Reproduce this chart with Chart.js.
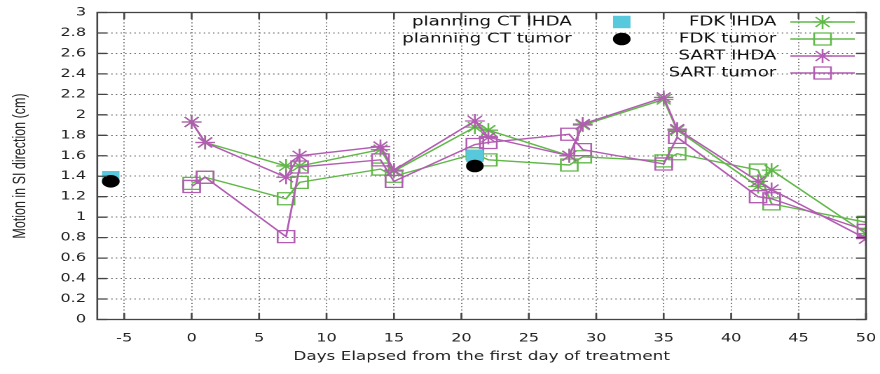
<!DOCTYPE html>
<html>
<head>
<meta charset="utf-8">
<script src="https://cdn.jsdelivr.net/npm/chart.js@4.4.1/dist/chart.umd.min.js"></script>
<style>
    html, body { margin: 0; padding: 0; background: #fff; overflow: hidden; }
    /* la figura original esta estirada en horizontal */
    #marco { width: 628px; height: 374px; transform: scaleX(1.40127); transform-origin: 0 0; }
</style>
</head>
<body>
<div id="marco"><canvas id="grafica" width="628" height="374"></canvas></div>
<script>
const dias = [0, 1, 7, 8, 14, 15, 21, 22, 28, 29, 35, 36, 42, 43, 50];
const fdkIhda   = [1.93, 1.73, 1.50, 1.50, 1.66, 1.45, 1.88, 1.85, 1.60, 1.90, 2.15, 1.85, 1.30, 1.46, 0.84];
const fdkTumor  = [1.33, 1.39, 1.18, 1.34, 1.47, 1.40, 1.62, 1.56, 1.51, 1.59, 1.55, 1.62, 1.46, 1.13, 0.95];
const sartIhda  = [1.93, 1.73, 1.39, 1.60, 1.69, 1.46, 1.94, 1.78, 1.60, 1.91, 2.17, 1.86, 1.35, 1.27, 0.79];
const sartTumor = [1.30, 1.39, 0.81, 1.49, 1.56, 1.35, 1.71, 1.73, 1.81, 1.66, 1.52, 1.78, 1.20, 1.18, 0.87];

const diasPlanning = [-6, 21];
const planningIhda = [1.39, 1.60];
const planningTumor = [1.35, 1.50];

const xTicks = [-5, 0, 5, 10, 15, 20, 25, 30, 35, 40, 45, 50];
const yTicks = [0, 0.2, 0.4, 0.6, 0.8, 1, 1.2, 1.4, 1.6, 1.8, 2, 2.2, 2.4, 2.6, 2.8, 3];

const verde = 'rgb(96,184,72)';
const magenta = 'rgb(178,92,178)';
const cian = 'rgb(88,200,220)';

function serie(xs, ys) {
    return xs.map((d, i) => ({ x: d, y: ys[i] }));
}

function lineaSerie(label, valores, color, estilo, radio) {
    return {
        label: label,
        data: serie(dias, valores),
        borderColor: color,
        backgroundColor: 'rgba(0,0,0,0)',
        borderWidth: 1.4,
        tension: 0,
        pointStyle: estilo,
        pointRadius: radio,
        pointBorderWidth: 1.3,
        pointBorderColor: color,
        pointBackgroundColor: 'rgba(0,0,0,0)'
    };
}

// posicion de cada entrada en la leyenda estilo gnuplot: [columna, fila]
const huecosLeyenda = {
    'planning CT IHDA': [0, 0], 'planning CT tumor': [0, 1],
    'FDK IHDA': [1, 0], 'FDK tumor': [1, 1], 'SART IHDA': [1, 2], 'SART tumor': [1, 3]
};

function dibujarMarca(ctx, ds, x, y) {
    const estilo = ds.pointStyle;
    const r = ds.pointRadius;
    ctx.beginPath();
    if (estilo === 'circle') {
        ctx.arc(x, y, r, 0, Math.PI * 2);
        ctx.fillStyle = ds.backgroundColor;
        ctx.fill();
    } else if (estilo === 'rect') {
        const s = Math.SQRT1_2 * r;
        ctx.rect(x - s, y - s, 2 * s, 2 * s);
        if (ds.showLine === false) {
            ctx.fillStyle = ds.backgroundColor;
            ctx.fill();
        } else {
            ctx.strokeStyle = ds.borderColor;
            ctx.lineWidth = ds.pointBorderWidth;
            ctx.stroke();
        }
    } else if (estilo === 'star') {
        const d = r * Math.SQRT1_2;
        ctx.moveTo(x - r, y); ctx.lineTo(x + r, y);
        ctx.moveTo(x, y - r); ctx.lineTo(x, y + r);
        ctx.moveTo(x - d, y - d); ctx.lineTo(x + d, y + d);
        ctx.moveTo(x - d, y + d); ctx.lineTo(x + d, y - d);
        ctx.strokeStyle = ds.borderColor;
        ctx.lineWidth = ds.pointBorderWidth;
        ctx.stroke();
    }
}

const leyendaGnuplot = {
    id: 'leyendaGnuplot',
    afterDraw(chart) {
        const ctx = chart.ctx;
        ctx.save();
        ctx.font = '13px "DejaVu Sans"';
        ctx.textAlign = 'right';
        ctx.textBaseline = 'middle';
        chart.data.datasets.forEach(ds => {
            const hueco = huecosLeyenda[ds.label];
            if (!hueco) return;
            const y = 22 + hueco[1] * 17;
            ctx.fillStyle = '#111';
            if (hueco[0] === 0) {
                ctx.fillText(ds.label, 408, y);
                dibujarMarca(ctx, ds, 443.7, y);
            } else {
                ctx.fillText(ds.label, 554, y);
                ctx.beginPath();
                ctx.moveTo(564, y);
                ctx.lineTo(610, y);
                ctx.strokeStyle = ds.borderColor;
                ctx.lineWidth = ds.borderWidth;
                ctx.stroke();
                dibujarMarca(ctx, ds, 587, y);
            }
        });
        ctx.restore();
    }
};

const bordeYMarcas = {
    id: 'bordeYMarcas',
    afterDatasetsDraw(chart) {
        const { ctx, chartArea: a, scales: { x, y } } = chart;
        ctx.save();
        ctx.strokeStyle = '#444';
        ctx.lineWidth = 1.3;
        ctx.strokeRect(a.left, a.top, a.right - a.left, a.bottom - a.top);
        ctx.beginPath();
        xTicks.forEach(v => {
            const px = x.getPixelForValue(v);
            ctx.moveTo(px, a.bottom); ctx.lineTo(px, a.bottom - 6.5);
            ctx.moveTo(px, a.top); ctx.lineTo(px, a.top + 6.5);
        });
        yTicks.forEach(v => {
            const py = y.getPixelForValue(v);
            ctx.moveTo(a.left, py); ctx.lineTo(a.left + 7, py);
            ctx.moveTo(a.right, py); ctx.lineTo(a.right - 7, py);
        });
        ctx.stroke();
        ctx.restore();
    }
};

const ctx = document.getElementById('grafica');

new Chart(ctx, {
    type: 'line',
    data: {
        datasets: [
            {
                label: 'planning CT tumor',
                data: serie(diasPlanning, planningTumor),
                showLine: false,
                pointStyle: 'circle',
                pointRadius: 6.3,
                backgroundColor: '#000',
                borderColor: '#000',
                pointBorderWidth: 0
            },
            {
                label: 'planning CT IHDA',
                data: serie(diasPlanning, planningIhda),
                showLine: false,
                pointStyle: 'rect',
                pointRadius: 8.8,
                backgroundColor: cian,
                borderColor: cian,
                pointBorderWidth: 0
            },
            lineaSerie('SART IHDA', sartIhda, magenta, 'star', 7),
            lineaSerie('SART tumor', sartTumor, magenta, 'rect', 8.5),
            lineaSerie('FDK IHDA', fdkIhda, verde, 'star', 7),
            lineaSerie('FDK tumor', fdkTumor, verde, 'rect', 8.5)
        ]
    },
    options: {
        responsive: false,
        devicePixelRatio: 2,
        animation: false,
        events: [],
        layout: { padding: { top: 12.5, right: 10, bottom: 0, left: 0 } },
        scales: {
            x: {
                type: 'linear',
                min: -7,
                max: 50,
                afterBuildTicks: s => { s.ticks = xTicks.map(v => ({ value: v })); },
                afterFit: s => {
                    s.height = 54.5;
                    s.paddingLeft = 0;
                    s.paddingRight = 0;
                },
                grid: { color: '#666', lineWidth: 1, drawTicks: false },
                border: { display: false, dash: [1, 2.3] },
                ticks: {
                    padding: 12,
                    autoSkip: false,
                    maxRotation: 0,
                    color: '#222',
                    font: { family: 'DejaVu Sans', size: 11.5 }
                },
                title: {
                    display: true,
                    text: 'Days Elapsed from the first day of treatment',
                    color: '#222',
                    font: { family: 'DejaVu Sans', size: 12 },
                    padding: { top: 0, bottom: 10 }
                }
            },
            y: {
                min: 0,
                max: 3,
                afterBuildTicks: s => { s.ticks = yTicks.map(v => ({ value: v })); },
                afterFit: s => {
                    s.width = 69.4;
                    s.paddingTop = 0;
                    s.paddingBottom = 0;
                },
                grid: { color: '#666', lineWidth: 1, drawTicks: false },
                border: { display: false, dash: [1, 2.3] },
                ticks: {
                    padding: 8,
                    color: '#222',
                    font: { family: 'DejaVu Sans', size: 11.5 },
                    callback: v => String(Number(v.toFixed(1)))
                },
                title: {
                    display: true,
                    text: 'Motion in SI direction (cm)',
                    color: '#222',
                    font: { family: 'Liberation Sans', size: 12.5 },
                    padding: { top: 7, bottom: 0 }
                }
            }
        },
        plugins: {
            legend: { display: false },
            tooltip: { enabled: false }
        }
    },
    plugins: [bordeYMarcas, leyendaGnuplot]
});
</script>
</body>
</html>
